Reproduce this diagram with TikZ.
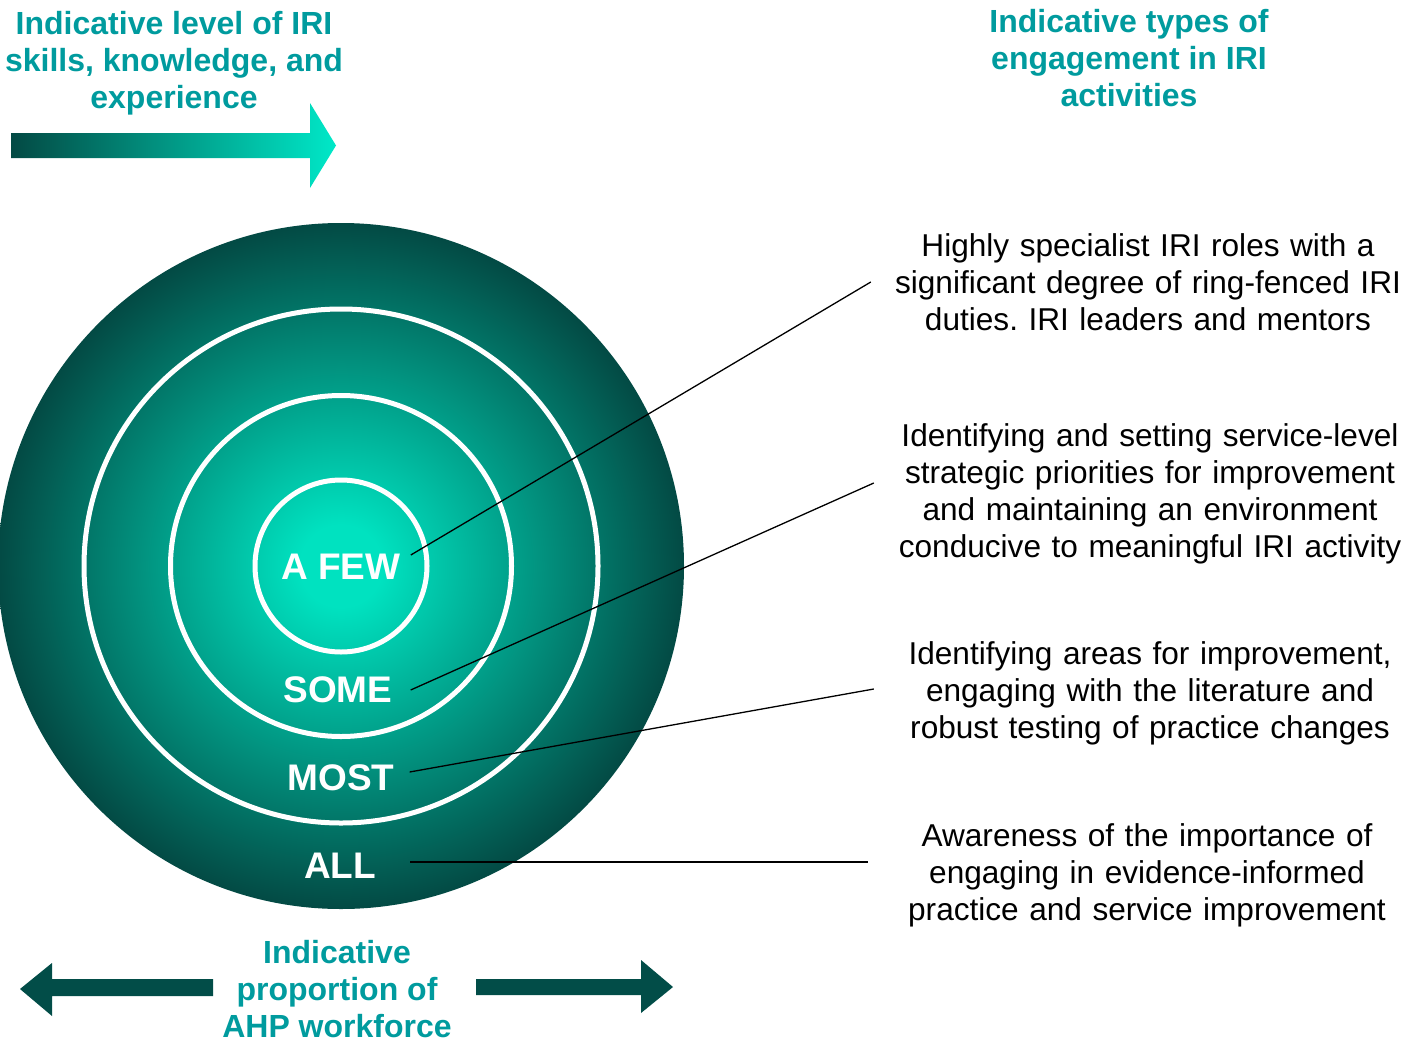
\documentclass[tikz,border=0pt]{standalone}
\usepackage{fontspec}
\setmainfont{Liberation Sans}
\frenchspacing
\definecolor{tealtxt}{RGB}{0,155,158}
\definecolor{cin}{RGB}{0,226,192}
\definecolor{cout}{RGB}{3,74,68}
\definecolor{arrowhi}{RGB}{0,232,200}
\definecolor{darkarrow}{RGB}{2,77,72}
\pgfdeclareradialshading{disc}{\pgfpoint{0bp}{0bp}}{color(0bp)=(cin); color(3bp)=(cin); color(25bp)=(cout); color(50bp)=(cout)}
\tikzset{
  ringline/.style={draw=white, line width=5pt},
  lab/.style={text=white, inner sep=0pt, font=\fontsize{37}{44}\selectfont\bfseries},
  desc/.style={align=center, text width=552pt, inner sep=0pt, font=\fontsize{31.6}{37}\selectfont},
  titletext/.style={align=center, inner sep=0pt, text=tealtxt, font=\fontsize{32}{37}\selectfont\bfseries},
  conn/.style={draw=black, line width=1.3pt},
  darkarr/.style={fill=darkarrow, draw=none}
}
\begin{document}
\begin{tikzpicture}[x=1pt,y=-1pt]
\useasboundingbox (0,0) rectangle (1405,1044);
% disc
\path[shading=disc] (341,566) circle[radius=343pt];
\draw[ringline] (341,566) circle[radius=257pt];
\draw[ringline] (341,566) circle[radius=170.5pt];
\draw[ringline] (341,566) circle[radius=86pt];
% labels
\node[lab] (few)  at (341,567) {A FEW};
\node[lab] (some) at (338,690) {SOME};
\node[lab] (most) at (341,778) {MOST};
\node[lab] (all)  at (340,866) {ALL};
% descriptions
\node[desc] (t1) at (1148,282) {Highly specialist IRI roles with a\\significant degree of ring-fenced IRI\\duties. IRI leaders and mentors};
\node[desc] (t2) at (1150,493.5) {Identifying and setting service-level\\strategic priorities for improvement\\and maintaining an environment\\conducive to meaningful IRI activity};
\node[desc] (t3) at (1150,693) {Identifying areas for improvement,\\engaging with the literature and\\robust testing of practice changes};
\node[desc] (t4) at (1147,875) {Awareness of the importance of\\engaging in evidence-informed\\practice and service improvement};
% connectors
\draw[conn] ([xshift=10pt,yshift=12pt]few.east) -- ([xshift=-1pt]t1.west);
\draw[conn] ([xshift=18pt]some.east) -- ([xshift=0pt,yshift=10.5pt]t2.west);
\draw[conn] ([xshift=15pt,yshift=6pt]most.east) -- ([xshift=0pt,yshift=4pt]t3.west);
\draw[conn] ([xshift=34pt,yshift=4pt]all.east) -- ([xshift=-3pt,yshift=13pt]t4.west);
% titles
\node[titletext] (tl) at (174,63) {Indicative level of IRI\\skills, knowledge, and\\experience};
\node[titletext] (tr) at (1129,58) {Indicative types of\\engagement in IRI\\activities};
\node[titletext] (tb) at (337,989) {Indicative\\proportion of\\AHP workforce};
% top gradient arrow
\path[left color=cout, right color=arrowhi] (11,133) -- (310,133) -- (310,103) -- (336,145.5) -- (310,188) -- (310,158) -- (11,158) -- cycle;
% bottom arrows
\path[darkarr] (213,979) -- (52,979) -- (52,963) -- (20,989) -- (52,1016) -- (52,996) -- (213,996) -- cycle;
\path[darkarr] (476,979) -- (641,979) -- (641,960) -- (673,987) -- (641,1013) -- (641,995) -- (476,995) -- cycle;
\end{tikzpicture}
\end{document}
